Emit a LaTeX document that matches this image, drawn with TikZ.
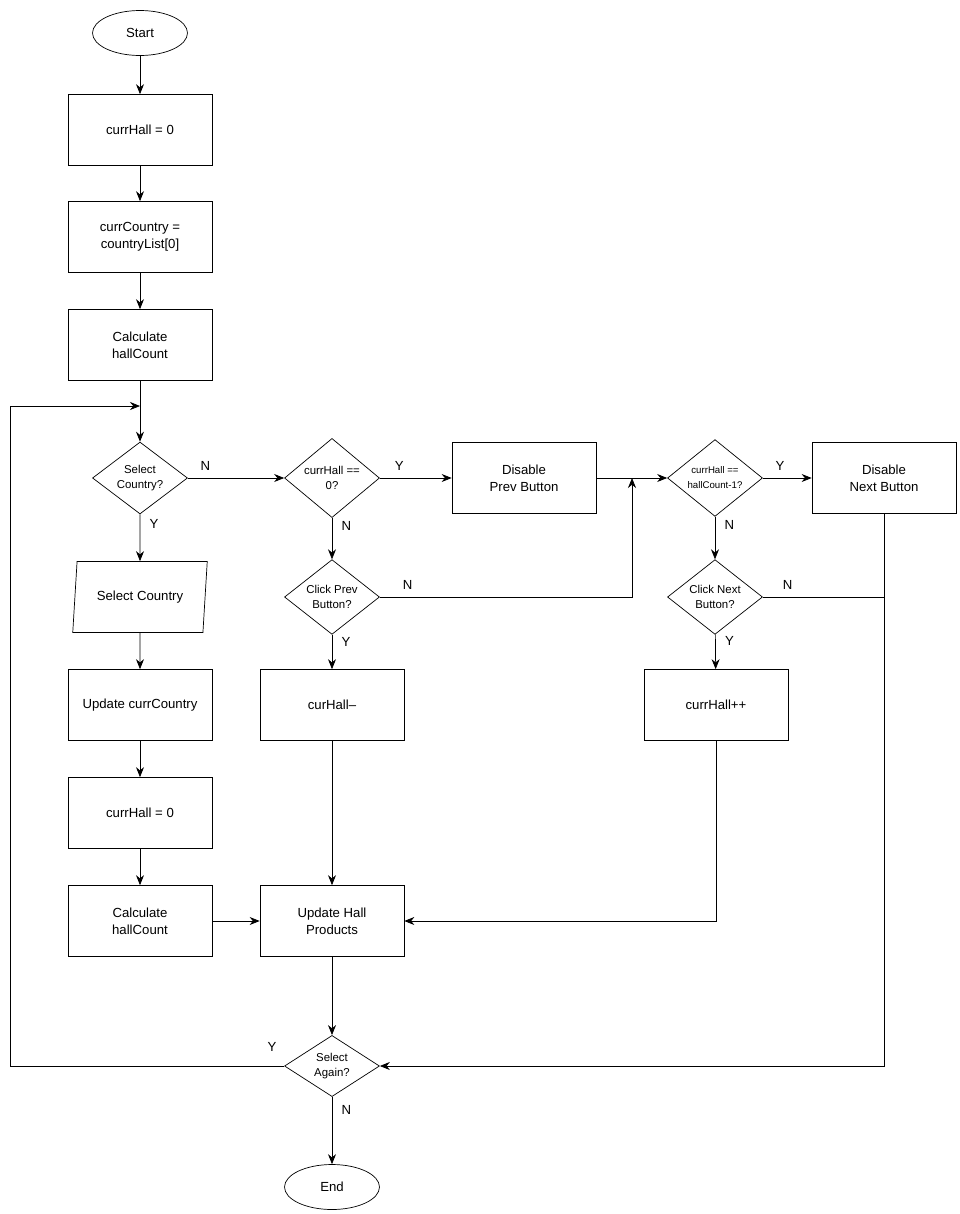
\documentclass[tikz,border=0pt]{standalone}
\usepackage{fontspec}
\setmainfont{Liberation Sans}
\usetikzlibrary{shapes.geometric,arrows.meta}
\tikzset{
  box/.style={draw=black,rectangle,minimum width=2.88cm,minimum height=1.42cm,align=center,font=\fontsize{7.5}{9.5}\selectfont},
  term/.style={draw=black,ellipse,minimum width=1.9cm,minimum height=0.9cm,font=\fontsize{7.5}{9}\selectfont},
  dec/.style={draw=black,diamond,aspect=1,minimum width=1.9cm,inner sep=0pt,align=center,font=\fontsize{6.5}{8.5}\selectfont},
  io/.style={draw=black,trapezium,trapezium left angle=82,trapezium right angle=98,trapezium stretches=true,minimum width=2.7cm,minimum height=1.42cm,font=\fontsize{7.5}{9}\selectfont},
  arr/.style={-{Stealth[length=2mm,width=1.6mm]}},
  lbl/.style={font=\fontsize{7.5}{9}\selectfont}
}
\begin{document}
\begin{tikzpicture}[x=0.02cm,y=-0.02cm]
    \useasboundingbox (0,0) rectangle (960,1214);
    \node[term] (start) at (140,33) {Start};
    \node[box] (init) at (140,130) {currHall = 0};
    \node[box] (country) at (140,237) {currCountry =\\countryList[0]};
    \node[box] (calc) at (140,345) {Calculate\\hallCount};
    \node[dec] (selC) at (140,478) {Select\\Country?};
    \node[io] (input) at (140,597) {Select Country};
    \node[box] (upd) at (140,705) {Update currCountry};
    \node[box] (reset) at (140,813) {currHall = 0};
    \node[box] (calc2) at (140,921) {Calculate\\hallCount};
    \node[dec] (first) at (332,478) {currHall ==\\0?};
    \node[box] (disP) at (524,478) {Disable\\Prev Button};
    \node[dec] (last) at (715,478) {\fontsize{5.5}{7}\selectfont currHall ==\\\fontsize{5.5}{7}\selectfont hallCount-1?};
    \node[box] (disN) at (884,478) {Disable\\Next Button};
    \node[dec] (prev) at (332,597) {Click Prev\\Button?};
    \node[dec] (next) at (715,597) {Click Next\\Button?};
    \node[box] (dec) at (332,705) {curHall--};
    \node[box] (inc) at (716,705) {currHall++};
    \node[box] (hall) at (332,921) {Update Hall\\Products};
    \node[dec] (again) at (332,1066) {Select\\Again?};
    \node[term] (end) at (332,1187) {End};
    \coordinate (loop) at (140,406);
    \coordinate (join) at (632,478);
    % main column
    \draw[arr] (start) -- (init);
    \draw[arr] (init) -- (country);
    \draw[arr] (country) -- (calc);
    \draw[arr] (calc) -- (selC);
    \draw[arr] (selC) -- (input) node[lbl,pos=0.2,right=2pt] {Y};
    \draw[arr] (input) -- (upd);
    \draw[arr] (upd) -- (reset);
    \draw[arr] (reset) -- (calc2);
    \draw[arr] (calc2) -- (hall);
    % prev branch
    \draw[arr] (selC) -- (first) node[lbl,pos=0.05,above right=1pt] {N};
    \draw[arr] (first) -- (disP) node[lbl,pos=0.1,above right=1pt] {Y};
    \draw[arr] (first) -- (prev) node[lbl,pos=0.2,right=2pt] {N};
    \draw[arr] (prev.east) -| (join) node[lbl,pos=0.03,above right=1pt] {N};
    \draw[arr] (prev) -- (dec) node[lbl,pos=0.2,right=2pt] {Y};
    \draw[arr] (dec) -- (hall);
    % next branch
    \draw[arr] (disP) -- (last);
    \draw[arr] (last) -- (disN) node[lbl,pos=0.1,above right=1pt] {Y};
    \draw[arr] (last) -- (next) node[lbl,pos=0.2,right=2pt] {N};
    \draw (next.east) -- (next.east -| disN) node[lbl,pos=0.1,above right=1pt] {N};
    \draw[arr] (next) -- (inc) node[lbl,pos=0.2,right=2pt] {Y};
    \draw[arr] (inc) |- (hall);
    \draw[arr] (disN) |- (again);
    % end
    \draw[arr] (hall) -- (again);
    \draw[arr] (again) -- (end) node[lbl,pos=0.2,right=2pt] {N};
    \draw[arr] (again.west) -- (10,1066) -- (10,406) -- (loop) node[lbl,pos=0.01,above=9pt] {};
    \node[lbl] at (272,1047) {Y};
\end{tikzpicture}
\end{document}
